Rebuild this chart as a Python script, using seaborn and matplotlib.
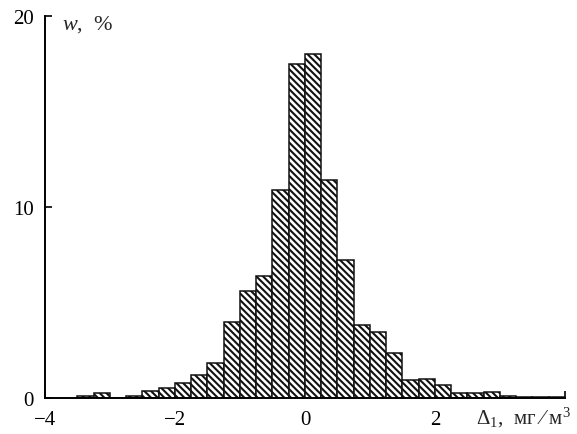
import numpy as np
import matplotlib
matplotlib.use("Agg")
import matplotlib.pyplot as plt
import seaborn as sns

# histogram bins (left edges, width 0.25) and frequencies, %
bin_left = [-3.5, -3.25, -3.0, -2.75, -2.5, -2.25, -2.0, -1.75, -1.5, -1.25,
            -1.0, -0.75, -0.5, -0.25, 0.0, 0.25, 0.5, 0.75, 1.0, 1.25,
            1.5, 1.75, 2.0, 2.25, 2.5, 2.75, 3.0, 3.25, 3.5, 3.75]
freq = [0.08, 0.25, 0.0, 0.08, 0.37, 0.52, 0.8, 1.22, 1.83, 3.96,
        5.6, 6.4, 10.9, 17.5, 18.0, 11.4, 7.2, 3.84, 3.44, 2.36,
        0.96, 1.01, 0.68, 0.26, 0.26, 0.33, 0.09, 0.05, 0.05, 0.05]
bin_width = 0.25

x_ticks = [-4, -2, 0, 2, 4]
x_labels = ["\u22124", "\u22122", "0", "2", ""]
y_ticks = [0, 10, 20]

sns.set_style("ticks")
plt.rcParams["font.family"] = ["Liberation Serif", "DejaVu Serif"]
plt.rcParams["mathtext.fontset"] = "custom"
plt.rcParams["mathtext.rm"] = "Liberation Serif"
plt.rcParams["mathtext.it"] = "Liberation Serif:italic"
plt.rcParams["hatch.linewidth"] = 1.5

fig = plt.figure(figsize=(5.77, 4.35), dpi=100)
ax = fig.add_axes([0.078, 0.0828, 0.901, 0.878])

centers = [b + bin_width / 2 for b in bin_left]
edges = bin_left + [bin_left[-1] + bin_width]
sns.histplot(x=centers, weights=freq, bins=edges, ax=ax, stat="count",
             color="white", alpha=1, edgecolor="#111111", linewidth=1.1,
             hatch="\\" * 5)

ax.set_xlim(-4, 4)
ax.set_ylim(0, 20)
ax.set_xticks(x_ticks)
ax.set_xticklabels(x_labels)
ax.set_yticks(y_ticks)
ax.tick_params(direction="in", length=5, width=1.2, labelsize=15, colors="black")
ax.tick_params(axis="x", pad=9)
ax.tick_params(axis="y", pad=8)
ax.set_xlabel("")
ax.set_ylabel("")
sns.despine(ax=ax)
for s in ("left", "bottom"):
    ax.spines[s].set_linewidth(1.4)
    ax.spines[s].set_color("black")

fig.text(62 / 577, 1 - 30 / 435, r"$w$,  %", fontsize=16, ha="left", va="baseline")
fig.text(476 / 577, 1 - 424 / 435, r"$\Delta_1$,  мг ⁄ м$^3$", fontsize=15,
         ha="left", va="baseline")

fig.savefig("out.png", dpi=100)
